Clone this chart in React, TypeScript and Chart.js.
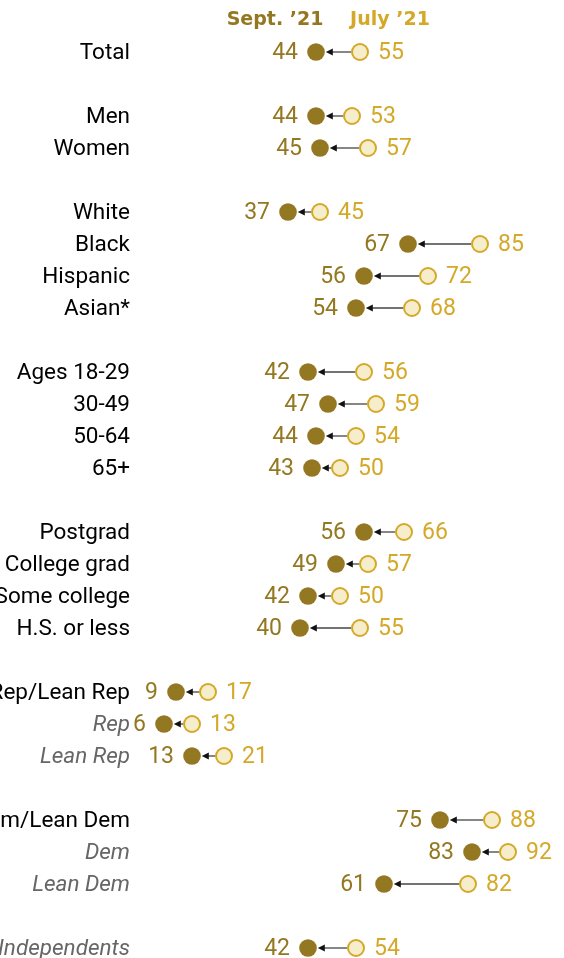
import React, { useEffect, useRef } from "react";
import { Chart, registerables } from "chart.js";

Chart.register(...registerables);

const categories = [
  "Total", "",
  "Men", "Women", "",
  "White", "Black", "Hispanic", "Asian*", "",
  "Ages 18-29", "30-49", "50-64", "65+", "",
  "Postgrad", "College grad", "Some college", "H.S. or less", "",
  "Rep/Lean Rep", "Rep", "Lean Rep", "",
  "Dem/Lean Dem", "Dem", "Lean Dem", "",
  "Independents",
];
const subCategories = ["Rep", "Lean Rep", "Dem", "Lean Dem", "Independents"];

const sept21 = [44, null, 44, 45, null, 37, 67, 56, 54, null, 42, 47, 44, 43, null, 56, 49, 42, 40, null, 9, 6, 13, null, 75, 83, 61, null, 42];
const july21 = [55, null, 53, 57, null, 45, 85, 72, 68, null, 56, 59, 54, 50, null, 66, 57, 50, 55, null, 17, 13, 21, null, 88, 92, 82, null, 54];

const seriesNames = ["Sept. \u201921", "July \u201921"];

const SEPT_COLOR = "#947821";
const JULY_COLOR = "#d4a828";
const JULY_FILL = "#f6eecb";
const FONT = "Roboto, 'Noto Sans', sans-serif";

const pts = (arr: (number | null)[]) =>
  arr.map((v, i) => (v == null ? null : { x: v, y: i })).filter(Boolean) as { x: number; y: number }[];

const overlay = {
  id: "overlay",
  beforeDatasetsDraw(chart: any) {
    const { ctx, scales } = chart;
    const xs = scales.x;
    const ys = scales.y;
    const R = 8.8;
    ctx.save();
    categories.forEach((_, i) => {
      const s = sept21[i];
      const j = july21[i];
      if (s == null || j == null) return;
      const y = ys.getPixelForValue(i);
      const xs0 = xs.getPixelForValue(s) + R + 1;
      const xj = xs.getPixelForValue(j) - R;
      ctx.strokeStyle = "#444";
      ctx.lineWidth = 1.3;
      ctx.beginPath();
      ctx.moveTo(xj, y);
      ctx.lineTo(xs0 + 5, y);
      ctx.stroke();
      ctx.fillStyle = "#111";
      ctx.beginPath();
      ctx.moveTo(xs0, y);
      ctx.lineTo(xs0 + 7, y - 3.5);
      ctx.lineTo(xs0 + 7, y + 3.5);
      ctx.closePath();
      ctx.fill();
    });
    ctx.restore();
  },
  afterDatasetsDraw(chart: any) {
    const { ctx, scales } = chart;
    const xs = scales.x;
    const ys = scales.y;
    ctx.save();
    ctx.textBaseline = "middle";
    categories.forEach((label, i) => {
      const y = ys.getPixelForValue(i);
      if (label) {
        const sub = subCategories.includes(label);
        ctx.font = `${sub ? "italic " : ""}22.5px ${FONT}`;
        ctx.fillStyle = sub ? "#666666" : "#000000";
        ctx.textAlign = "right";
        ctx.fillText(label, 130, y + 1);
      }
      const s = sept21[i];
      const j = july21[i];
      ctx.font = `23px ${FONT}`;
      if (s != null) {
        ctx.fillStyle = SEPT_COLOR;
        ctx.textAlign = "right";
        ctx.fillText(String(s), xs.getPixelForValue(s) - 18, y + 1);
      }
      if (j != null) {
        ctx.fillStyle = JULY_COLOR;
        ctx.textAlign = "left";
        ctx.fillText(String(j), xs.getPixelForValue(j) + 18, y + 1);
      }
    });
    ctx.font = `bold 19px 'DejaVu Sans', sans-serif`;
    ctx.textAlign = "center";
    ctx.fillStyle = SEPT_COLOR;
    ctx.fillText(seriesNames[0], 275, 20);
    ctx.fillStyle = JULY_COLOR;
    ctx.fillText(seriesNames[1], 390, 20);
    ctx.restore();
  },
};

export default function App() {
  const ref = useRef<HTMLCanvasElement | null>(null);
  useEffect(() => {
    if (!ref.current) return;
    const chart = new Chart(ref.current, {
      type: "scatter",
      data: {
        datasets: [
          {
            label: seriesNames[1],
            data: pts(july21),
            pointRadius: 8,
            pointBackgroundColor: JULY_FILL,
            pointBorderColor: JULY_COLOR,
            pointBorderWidth: 2,
          },
          {
            label: seriesNames[0],
            data: pts(sept21),
            pointRadius: 8.8,
            pointBackgroundColor: SEPT_COLOR,
            pointBorderColor: SEPT_COLOR,
            pointBorderWidth: 0,
          },
        ],
      },
      options: {
        animation: false,
        responsive: false,
        devicePixelRatio: 1,
        layout: { autoPadding: false, padding: { left: 140, right: 0, top: 0, bottom: 0 } },
        plugins: { legend: { display: false }, tooltip: { enabled: false } },
        scales: {
          x: { type: "linear", min: 0, max: 106, display: false },
          y: { type: "linear", min: -1.625, max: 28.3125, reverse: true, display: false },
        },
      },
      plugins: [overlay],
    });
    return () => chart.destroy();
  }, []);
  return (
    <div style={{ position: "absolute", left: 0, top: 0, width: 564, height: 958, background: "#fff" }}>
      <canvas ref={ref} width={564} height={958} style={{ display: "block" }} />
    </div>
  );
}
